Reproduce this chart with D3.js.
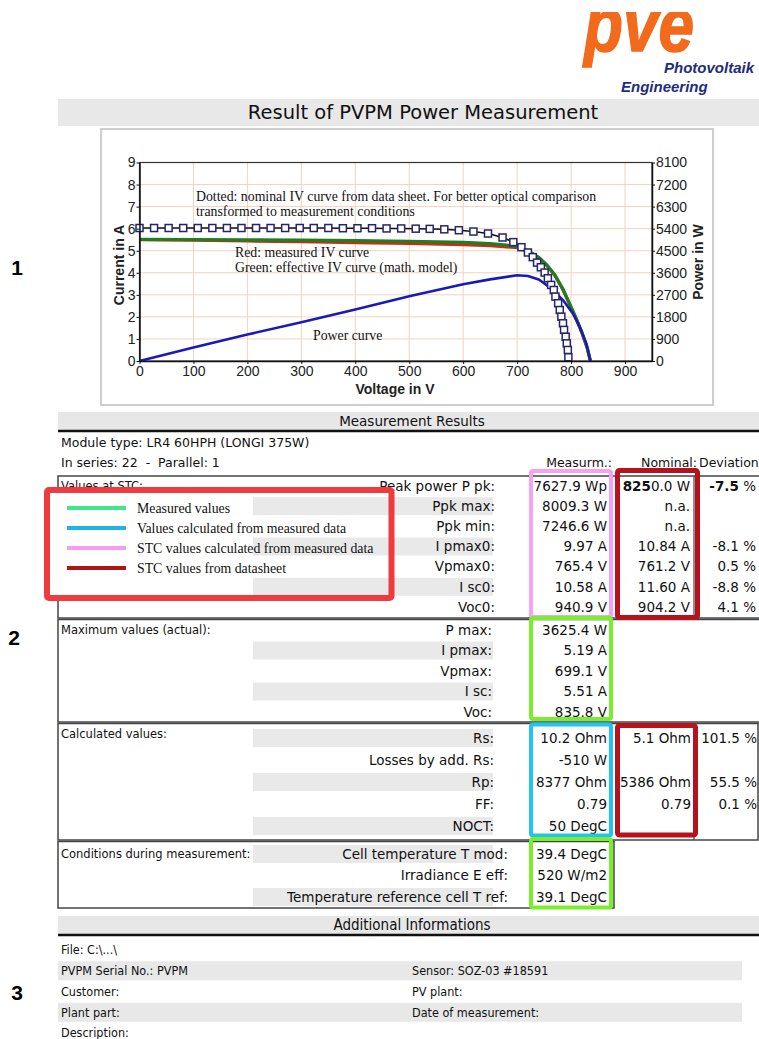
<!DOCTYPE html>
<html>
<head>
<meta charset="utf-8">
<script src="https://cdn.jsdelivr.net/npm/d3@7"></script>
<style>
  body { margin: 0; background: #fff; }
  svg { display: block; }
  .tbl { font-family: "DejaVu Sans", Verdana, sans-serif; font-size: 12.5px; fill: #111; }
  .row { font-size: 13.5px; }
  .cond { font-family: "DejaVu Sans Condensed", "DejaVu Sans", sans-serif; font-size: 12.5px; fill: #111; }
  .serif { font-family: "Liberation Serif", "Times New Roman", serif; font-size: 13.8px; fill: #111; }
  .tick text { font-family: "Liberation Sans", Arial, sans-serif; font-size: 14px; fill: #222; }
  .axtitle { font-family: "Liberation Sans", Arial, sans-serif; font-size: 14px; font-weight: 700; fill: #222; }
</style>
</head>
<body>
<div id="report"></div>
<script>
// ---------- chart data ----------
var voltTicks = [0, 100, 200, 300, 400, 500, 600, 700, 800, 900];
var currentTicks = [0, 1, 2, 3, 4, 5, 6, 7, 8, 9];
var powerTicks = [0, 900, 1800, 2700, 3600, 4500, 5400, 6300, 7200, 8100];

// dotted: nominal IV curve (squares)
var nominalV = [0, 27, 54, 81, 108, 135, 162, 189, 216, 243, 270, 297, 323, 350, 377, 404, 431, 458,
  485, 512, 538, 565, 592, 619, 646, 673, 693, 708, 720, 729, 737, 744, 751, 757, 763, 768, 771,
  776, 779, 782, 785, 787, 790, 792, 794, 795];
var nominalI = [6.03, 6.03, 6.03, 6.03, 6.03, 6.03, 6.03, 6.03, 6.03, 6.03, 6.03, 6.03, 6.03, 6.03,
  6.02, 6.02, 6.02, 6.01, 6.01, 6.0, 5.99, 5.97, 5.93, 5.87, 5.78, 5.6, 5.39, 5.16, 4.92, 4.71, 4.46,
  4.25, 4.01, 3.75, 3.45, 3.22, 2.92, 2.62, 2.31, 2.01, 1.71, 1.41, 1.10, 0.80, 0.50, 0.17];

// red: measured IV curve
var measuredV = [0, 100, 200, 300, 400, 500, 600, 650, 700, 720, 740, 755, 770, 785, 800, 810, 820, 830, 835.8];
var measuredI = [5.50, 5.48, 5.44, 5.41, 5.37, 5.33, 5.28, 5.23, 5.14, 4.98, 4.68, 4.33, 3.88, 3.23, 2.43, 1.88, 1.28, 0.58, 0];

// green: effective IV curve (math. model)
var effectiveV = [0, 100, 200, 300, 400, 500, 600, 650, 680, 700, 720, 740, 755, 770, 785, 800, 810, 820, 830, 835.8];
var effectiveI = [5.51, 5.50, 5.49, 5.48, 5.46, 5.43, 5.38, 5.32, 5.26, 5.17, 5.00, 4.70, 4.36, 3.90, 3.25, 2.45, 1.90, 1.30, 0.60, 0];

// blue: power curve (right axis, W)
var powerV = [0, 100, 200, 300, 400, 500, 600, 650, 700, 720, 740, 750, 766, 785, 803, 816, 828, 835.8];
var powerW = [0, 550, 1080, 1580, 2100, 2640, 3130, 3330, 3500, 3470, 3330, 3175, 2900, 2490, 1950, 1400, 720, 0];

var chartNotes = [
  "Dotted: nominal IV curve from data sheet. For better optical comparison",
  "transformed to measurement conditions",
  "Red: measured IV curve",
  "Green: effective IV curve (math. model)",
  "Power curve"
];

// ---------- table data ----------
var moduleInfo = ["Module type: LR4 60HPH (LONGI 375W)", "In series: 22  -  Parallel: 1"];
var columnHeads = ["Measurm.:", "Nominal:", "Deviation:"];

var stcLabels = ["Peak power P pk:", "Ppk max:", "Ppk min:", "I pmax0:", "Vpmax0:", "I sc0:", "Voc0:"];
var stcMeasured = ["7627.9 Wp", "8009.3 W", "7246.6 W", "9.97 A", "765.4 V", "10.58 A", "940.9 V"];
var stcNominal = ["8250.0 W", "n.a.", "n.a.", "10.84 A", "761.2 V", "11.60 A", "904.2 V"];
var stcDeviation = ["-7.5 %", "", "", "-8.1 %", "0.5 %", "-8.8 %", "4.1 %"];

var maxLabels = ["P max:", "I pmax:", "Vpmax:", "I sc:", "Voc:"];
var maxValues = ["3625.4 W", "5.19 A", "699.1 V", "5.51 A", "835.8 V"];

var calcLabels = ["Rs:", "Losses by add. Rs:", "Rp:", "FF:", "NOCT:"];
var calcMeasured = ["10.2 Ohm", "-510 W", "8377 Ohm", "0.79", "50 DegC"];
var calcNominal = ["5.1 Ohm", "", "5386 Ohm", "0.79", ""];
var calcDeviation = ["101.5 %", "", "55.5 %", "0.1 %", ""];

var condLabels = ["Cell temperature T mod:", "Irradiance E eff:", "Temperature reference cell T ref:"];
var condValues = ["39.4 DegC", "520 W/m2", "39.1 DegC"];

var legendLabels = ["Measured values", "Values calculated from measured data",
  "STC values calculated from measured data", "STC values from datasheet"];
var legendColors = ["#3fe68c", "#1db6e6", "#f59cf0", "#b01414"];

var infoLeft = ["File: C:\\...\\", "PVPM Serial No.: PVPM", "Customer:", "Plant part:", "Description:"];
var infoRight = ["", "Sensor: SOZ-03 #18591", "PV plant:", "Date of measurement:", ""];

var sectionTitles = ["Result of PVPM Power Measurement", "Measurement Results", "Additional Informations"];
var sideNumbers = ["1", "2", "3"];

// ---------- page ----------
var svg = d3.select("#report").append("svg")
  .attr("width", 759).attr("height", 1039);

// logo
svg.append("clipPath").attr("id", "logoClip")
  .append("rect").attr("x", 560).attr("y", 12).attr("width", 199).attr("height", 84);
var logo = svg.append("g").attr("clip-path", "url(#logoClip)");
logo.append("text").attr("x", 584).attr("y", 51)
  .attr("font-family", "Liberation Sans, Arial, sans-serif").attr("font-weight", 700)
  .attr("font-style", "italic").attr("font-size", 76).attr("fill", "#f26a1b")
  .attr("stroke", "#f26a1b").attr("stroke-width", 1.5)
  .attr("textLength", 110).attr("lengthAdjust", "spacingAndGlyphs")
  .text("pve");
logo.append("text").attr("x", 664).attr("y", 73)
  .attr("font-family", "Liberation Sans, Arial, sans-serif").attr("font-weight", 700)
  .attr("font-style", "italic").attr("font-size", 15).attr("fill", "#1f2d7a")
  .text("Photovoltaik");
logo.append("text").attr("x", 621).attr("y", 92)
  .attr("font-family", "Liberation Sans, Arial, sans-serif").attr("font-weight", 700)
  .attr("font-style", "italic").attr("font-size", 15).attr("fill", "#1f2d7a")
  .text("Engineering");

// title bar
svg.append("rect").attr("x", 58).attr("y", 99).attr("width", 701).attr("height", 27).attr("fill", "#e8e8e8");
svg.append("text").attr("class", "tbl").attr("x", 423).attr("y", 112).attr("dy", "0.35em")
  .attr("text-anchor", "middle").style("font-size", "19.5px").text(sectionTitles[0]);

// side numbers
var sideY = [268, 638, 993], sideX = [17, 14, 17];
svg.selectAll(".side").data(sideNumbers).enter().append("text")
  .attr("class", "side")
  .attr("x", function(d, i) { return sideX[i]; })
  .attr("y", function(d, i) { return sideY[i]; })
  .attr("dy", "0.35em").attr("text-anchor", "middle")
  .attr("font-family", "Liberation Sans, Arial, sans-serif").attr("font-weight", 700)
  .attr("font-size", 21).text(function(d) { return d; });

// ---------- IV chart ----------
svg.append("rect").attr("x", 101).attr("y", 129).attr("width", 612).attr("height", 276)
  .attr("fill", "#fff").attr("stroke", "#cfcfcf").attr("stroke-width", 2);

var x = d3.scaleLinear().domain([0, 950]).range([139.5, 652]);
var y = d3.scaleLinear().domain([0, 9]).range([361, 162.5]);
var yP = d3.scaleLinear().domain([0, 8100]).range([361, 162.5]);

var grid = svg.append("g").attr("stroke", "#f1d3bd").attr("stroke-width", 1);
grid.selectAll(".vg").data(voltTicks.slice(1)).enter().append("line")
  .attr("x1", function(d) { return x(d); }).attr("x2", function(d) { return x(d); })
  .attr("y1", y(0)).attr("y2", y(9));
grid.selectAll(".hg").data(currentTicks.slice(1)).enter().append("line")
  .attr("x1", x(0)).attr("x2", x(950))
  .attr("y1", function(d) { return y(d); }).attr("y2", function(d) { return y(d); });

svg.append("rect").attr("x", x(0)).attr("y", y(9))
  .attr("width", x(950) - x(0)).attr("height", y(0) - y(9))
  .attr("fill", "none").attr("stroke", "#333").attr("stroke-width", 1.2);

var line = d3.line().x(function(d) { return x(d[0]); }).y(function(d) { return y(d[1]); });
var pline = d3.line().x(function(d) { return x(d[0]); }).y(function(d) { return yP(d[1]); });

svg.append("path").datum(d3.zip(measuredV, measuredI)).attr("d", line)
  .attr("fill", "none").attr("stroke", "#d22a10").attr("stroke-width", 3.2);
svg.append("path").datum(d3.zip(effectiveV, effectiveI)).attr("d", line)
  .attr("fill", "none").attr("stroke", "#1f7d22").attr("stroke-width", 3.2);
svg.append("path").datum(d3.zip(powerV, powerW)).attr("d", pline)
  .attr("fill", "none").attr("stroke", "#1a1ab8").attr("stroke-width", 2.6);

var nominal = d3.zip(nominalV, nominalI);
svg.append("path").datum(nominal).attr("d", line)
  .attr("fill", "none").attr("stroke", "#111").attr("stroke-width", 1.5);
svg.selectAll(".sq").data(nominal).enter().append("rect")
  .attr("class", "sq")
  .attr("x", function(d) { return x(d[0]) - 3.5; })
  .attr("y", function(d) { return y(d[1]) - 3.5; })
  .attr("width", 7).attr("height", 7)
  .attr("fill", "#fff").attr("stroke", "#25256e").attr("stroke-width", 1.5);

// axes
var axB = svg.append("g").attr("transform", "translate(0," + y(0) + ")")
  .call(d3.axisBottom(x).tickValues(voltTicks).tickSize(3).tickSizeOuter(0).tickPadding(2));
var axL = svg.append("g").attr("transform", "translate(" + x(0) + ",0)")
  .call(d3.axisLeft(y).tickValues(currentTicks).tickSize(3).tickSizeOuter(0).tickPadding(1));
var axR = svg.append("g").attr("transform", "translate(" + x(950) + ",0)")
  .call(d3.axisRight(yP).tickValues(powerTicks).tickFormat(d3.format("d"))
    .tickSize(3).tickSizeOuter(0).tickPadding(1));
[axB, axL, axR].forEach(function(a) {
  a.select(".domain").attr("stroke", "#111").attr("stroke-width", 1.5);
  a.selectAll(".tick line").attr("stroke", "#111");
});

svg.append("text").attr("class", "axtitle").attr("text-anchor", "middle")
  .attr("transform", "translate(119,265) rotate(-90)").attr("dy", "0.35em").text("Current in A");
svg.append("text").attr("class", "axtitle").attr("text-anchor", "middle")
  .attr("x", 395).attr("y", 389).attr("dy", "0.35em").text("Voltage in V");
svg.append("text").attr("class", "axtitle").attr("text-anchor", "middle")
  .attr("transform", "translate(698,262) rotate(-90)").attr("dy", "0.35em").text("Power in W");

// notes inside the plot
var noteX = [196, 196, 235, 235, 313];
var noteY = [196, 211, 252, 267, 335];
svg.selectAll(".note").data(chartNotes).enter().append("text")
  .attr("class", "serif")
  .attr("x", function(d, i) { return noteX[i]; })
  .attr("y", function(d, i) { return noteY[i]; })
  .attr("dy", "0.35em").text(function(d) { return d; });

// ---------- measurement results ----------
function sectionBar(y0, h, title) {
  svg.append("rect").attr("x", 58).attr("y", y0).attr("width", 701).attr("height", h).attr("fill", "#e7e7e7");
  svg.append("line").attr("x1", 58).attr("x2", 759).attr("y1", y0 + h + 1).attr("y2", y0 + h + 1)
    .attr("stroke", "#111").attr("stroke-width", 2.5);
  return svg.append("text").attr("x", 412).attr("y", y0 + h / 2).attr("dy", "0.35em")
    .attr("text-anchor", "middle").text(title);
}
sectionBar(412, 18, sectionTitles[1]).attr("class", "tbl").style("font-size", "13.5px");

svg.selectAll(".modinfo").data(moduleInfo).enter().append("text")
  .attr("class", "tbl").attr("x", 61)
  .attr("y", function(d, i) { return 443 + i * 20; })
  .attr("dy", "0.35em").style("white-space", "pre")
  .text(function(d) { return d; });

var headX = [612, 697, 699], headAnchor = ["end", "end", "start"];
svg.selectAll(".colhead").data(columnHeads).enter().append("text")
  .attr("class", "tbl")
  .attr("x", function(d, i) { return headX[i]; }).attr("y", 463).attr("dy", "0.35em")
  .attr("text-anchor", function(d, i) { return headAnchor[i]; })
  .text(function(d) { return d; });

// section boxes
function box(x0, y0, x1, y1) {
  svg.append("rect").attr("x", x0).attr("y", y0).attr("width", x1 - x0).attr("height", y1 - y0)
    .attr("fill", "none").attr("stroke", "#444").attr("stroke-width", 1.5);
}
box(58, 476, 762, 618);
box(58, 619.5, 762, 722);
box(58, 723.5, 758, 840);
box(58, 841.5, 614, 908);
[[476, 618], [723.5, 840]].forEach(function(r) {
  svg.append("line").attr("x1", 694).attr("x2", 694).attr("y1", r[0]).attr("y2", r[1])
    .attr("stroke", "#444").attr("stroke-width", 1.2);
});

var boxTitles = ["Values at STC:", "Maximum values (actual):", "Calculated values:", "Conditions during measurement:"];
var boxTitleY = [486, 630, 734, 854];

function rows(labels, cols, rowScale, shadeOdd, labelRight) {
  labels.forEach(function(lab, i) {
    var yy = rowScale(i);
    if ((i % 2 === 1) === shadeOdd) {
      svg.append("rect").attr("x", 253).attr("y", yy - 9).attr("width", 240).attr("height", 18)
        .attr("fill", "#e9e9e9");
    }
    svg.append("text").attr("class", "tbl row").attr("x", labelRight).attr("y", yy).attr("dy", "0.35em")
      .attr("text-anchor", "end").text(lab);
    cols.forEach(function(c) {
      if (!c.values[i]) return;
      svg.append("text").attr("class", "tbl row").attr("x", c.x).attr("y", yy).attr("dy", "0.35em")
        .attr("text-anchor", "end").text(c.values[i]);
    });
  });
}

var stcY = d3.scaleLinear().domain([0, stcLabels.length - 1]).range([486, 607]);
var maxY = d3.scaleLinear().domain([0, maxLabels.length - 1]).range([630, 712]);
var calcY = d3.scaleLinear().domain([0, calcLabels.length - 1]).range([738, 826]);
var condY = d3.scaleLinear().domain([0, condLabels.length - 1]).range([854, 897]);

// box titles
svg.selectAll(".btitle").data(boxTitles).enter().append("text")
  .attr("class", "tbl").style("font-size", "11.5px")
  .attr("x", 61).attr("y", function(d, i) { return boxTitleY[i]; }).attr("dy", "0.35em")
  .text(function(d) { return d; });

rows(stcLabels, [
  { x: 607, values: stcMeasured },
  { x: 690, values: stcNominal.map(function(v, i) { return i === 0 ? "" : v; }) },
  { x: 756, values: stcDeviation.map(function(v, i) { return i === 0 ? "" : v; }) }
], stcY, true, 495);

// first row: bold parts
var r0 = svg.append("text").attr("class", "tbl row").attr("x", 690).attr("y", stcY(0)).attr("dy", "0.35em")
  .attr("text-anchor", "end");
r0.append("tspan").attr("font-weight", 700).text(stcNominal[0].slice(0, 3));
r0.append("tspan").text(stcNominal[0].slice(3));
var r1 = svg.append("text").attr("class", "tbl row").attr("x", 756).attr("y", stcY(0)).attr("dy", "0.35em")
  .attr("text-anchor", "end");
r1.append("tspan").attr("font-weight", 700).text(stcDeviation[0].split(" ")[0]);
r1.append("tspan").text(" %");

rows(maxLabels, [{ x: 607, values: maxValues }], maxY, true, 492);
rows(calcLabels, [
  { x: 607, values: calcMeasured },
  { x: 691, values: calcNominal },
  { x: 757, values: calcDeviation }
], calcY, false, 494);
rows(condLabels, [{ x: 607, values: condValues }], condY, false, 508);

// legend (drawn over the STC box)
svg.append("rect").attr("x", 44).attr("y", 489).attr("width", 208).attr("height", 112).attr("fill", "#fff");
var legY = d3.scaleLinear().domain([0, legendLabels.length - 1]).range([508, 568]);
var leg = svg.selectAll(".leg").data(legendLabels).enter().append("g")
  .attr("transform", function(d, i) { return "translate(0," + legY(i) + ")"; });
leg.append("line").attr("x1", 67).attr("x2", 126)
  .attr("stroke", function(d, i) { return legendColors[i]; }).attr("stroke-width", 4);
leg.append("text").attr("class", "serif").attr("x", 137).attr("dy", "0.35em")
  .text(function(d) { return d; });

// highlight frames
var frames = [
  { x: 47, y: 490, w: 344.5, h: 108, c: "#ef3b3f", sw: 6 },
  { x: 531, y: 471, w: 80, h: 146, c: "#f6a2f2", sw: 4 },
  { x: 617.5, y: 470.5, w: 80, h: 147, c: "#b5121b", sw: 5 },
  { x: 531, y: 618, w: 80, h: 101, c: "#7aee2c", sw: 4 },
  { x: 531, y: 724.5, w: 80, h: 111, c: "#22c3ee", sw: 4 },
  { x: 617.5, y: 725.5, w: 78, h: 109.5, c: "#b5121b", sw: 5 },
  { x: 531, y: 839, w: 80, h: 68.5, c: "#7aee2c", sw: 4 }
];
svg.selectAll(".frame").data(frames).enter().append("rect")
  .attr("x", function(d) { return d.x; }).attr("y", function(d) { return d.y; })
  .attr("width", function(d) { return d.w; }).attr("height", function(d) { return d.h; })
  .attr("rx", 2).attr("fill", "none")
  .attr("stroke", function(d) { return d.c; }).attr("stroke-width", function(d) { return d.sw; });

// ---------- additional informations ----------
sectionBar(916, 18, sectionTitles[2]).attr("class", "cond").style("font-size", "15px");

var infoY = d3.scaleLinear().domain([0, infoLeft.length - 1]).range([950, 1033]);
infoLeft.forEach(function(t, i) {
  if (i % 2 === 1) {
    svg.append("rect").attr("x", 58).attr("y", infoY(i) - 9.5).attr("width", 684).attr("height", 19)
      .attr("fill", "#e8e8e8");
  }
  svg.append("text").attr("class", "cond").attr("x", 61).attr("y", infoY(i)).attr("dy", "0.35em").text(t);
  if (infoRight[i]) {
    svg.append("text").attr("class", "cond").attr("x", 412).attr("y", infoY(i)).attr("dy", "0.35em").text(infoRight[i]);
  }
});
</script>
</body>
</html>
